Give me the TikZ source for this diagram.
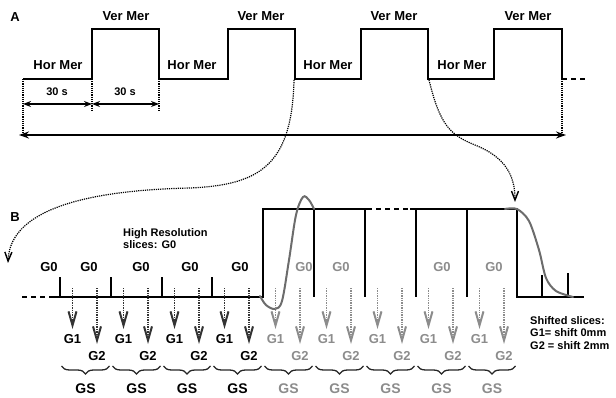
\documentclass[tikz,border=0pt]{standalone}
\usepackage{fontspec}
\setmainfont{Liberation Sans}
\usetikzlibrary{arrows.meta,decorations.pathreplacing}
\definecolor{lite}{gray}{0.55}
\definecolor{darkg}{gray}{0.2}
\begin{document}
\begin{tikzpicture}[x=1pt,y=-1pt,
  lbl/.style={font=\bfseries\fontsize{13}{13}\selectfont, inner sep=0pt, text height=0.72em, text depth=0pt},
  small/.style={font=\bfseries\fontsize{11}{11}\selectfont, inner sep=0pt, text height=0.72em, text depth=0pt},
  note/.style={font=\bfseries\fontsize{11}{12.5}\selectfont, inner sep=0pt, align=left, anchor=north west},
  gslbl/.style={font=\bfseries\fontsize{14}{14}\selectfont, inner sep=0pt, text height=0.72em, text depth=0pt},
  wave/.style={line width=1.6pt, line join=miter},
  dimline/.style={line width=1.4pt, {Stealth[length=8pt,width=6pt]}-{Stealth[length=8pt,width=6pt]}},
  longline/.style={line width=1.8pt, {Stealth[length=10pt,width=7pt]}-{Stealth[length=10pt,width=7pt]}},
  dropline/.style={line width=1.2pt, densely dotted},
  linkcurve/.style={line width=1.2pt, densely dotted, -{Straight Barb[length=9pt,width=7pt,line width=1.4pt]}},
  slicearrow/.style={line width=1.4pt, densely dotted, -{Straight Barb[length=14pt,width=8pt,line width=2pt]}},
  bold/.style={line width=2pt, gray!85!black, line cap=round},
  gsbrace/.style={line width=1.3pt, decorate, decoration={brace, mirror, amplitude=8pt}},
]
\useasboundingbox (0,0) rectangle (616,398);

% ---------------- Panel A ----------------
\node[lbl] (labA) at (15,18) {A};
\draw[wave] (23,79) -- (92,79) -- (92,29) -- (159,29) -- (159,79) -- (228,79) -- (228,29) -- (295,29) -- (295,79)
  -- (361,79) -- (361,29) -- (428,29) -- (428,79) -- (494,79) -- (494,29) -- (562,29) -- (562,79);
\draw[wave, dash pattern=on 5pt off 4pt] (562,79) -- (586,79);

\foreach \x/\n in {126/1,261/2,394/3,528/4}
  \node[lbl] (ver\n) at (\x,17) {Ver Mer};
\foreach \x/\n in {58/1,192/2,328/3,462/4}
  \node[lbl] (hor\n) at (\x,66) {Hor Mer};

\coordinate (d0) at (23,79);  \coordinate (d0b) at (23,135);
\coordinate (d1) at (92,79);  \coordinate (d1b) at (92,112);
\coordinate (d2) at (159,79); \coordinate (d2b) at (159,112);
\coordinate (d3) at (562,79); \coordinate (d3b) at (562,135);
\draw[dropline] (d0) -- (d0b);
\draw[dropline] (d1) -- (d1b);
\draw[dropline] (d2) -- (d2b);
\draw[dropline] (d3) -- (d3b);

\coordinate (a0) at (23,104); \coordinate (a1) at (92,104); \coordinate (a2) at (159,104);
\draw[dimline] (a0) -- (a1);
\draw[dimline] (a1) -- (a2);
\node[small] (t1) at (57,92) {30 s};
\node[small] (t2) at (125,92) {30 s};

\coordinate (L0) at (19,135); \coordinate (L1) at (566,135);
\draw[longline] (L0) -- (L1);

% link curves
\coordinate (f1) at (294,80);
\coordinate (m1) at (190,188);
\coordinate (e1) at (8,263);
\draw[linkcurve] (f1) .. controls (292,165) and (260,185) .. (m1) .. controls (100,190) and (10,205) .. (e1);
\coordinate (f2) at (429,80);
\coordinate (m2) at (475,145);
\coordinate (e2) at (515,202);
\draw[linkcurve] (f2) .. controls (440,125) and (450,135) .. (m2) .. controls (505,157) and (515,175) .. (e2);

% ---------------- Panel B ----------------
\node[lbl] (labB) at (15,218) {B};
\node[note] (hires) at (123,228) {High Resolution\\slices: G0};

\draw[wave, dash pattern=on 5pt off 4pt] (22,297) -- (50,297);
\draw[wave] (50,297) -- (263,297) -- (263,209) -- (372,209);
\draw[wave, dash pattern=on 5pt off 4pt] (376,209) -- (408,209);
\draw[wave] (410,209) -- (517,209) -- (517,297) -- (584,297);

% up ticks
\foreach \x in {60,111,162,212}
  \draw[wave] (\x,297) -- (\x,277);
\draw[wave] (542,297) -- (542,275);
\draw[wave] (568,297) -- (568,273);
% hanging ticks
\foreach \x in {314,365,416,467}
  \draw[wave] (\x,209) -- (\x,297);

% BOLD response curves
\draw[bold] plot[smooth, tension=0.55] coordinates {(260,296) (266,305) (275,309) (282,301) (289,260) (296,215) (303,197) (309,200) (314,209)};
\draw[bold] plot[smooth, tension=0.5] coordinates {(505,209) (517,209) (529,221) (539,250) (546,278) (556,291) (573,297)};

% G0 labels
\foreach \x/\n in {49/1,89/2,141/3,190/4,240/5}
  \node[lbl] (gz\n) at (\x,268) {G0};
\foreach \x/\n in {304/6,341/7,442/8,494/9}
  \node[lbl, text=lite] (gz\n) at (\x,268) {G0};

% slice arrows, labels, braces
\foreach \t/\u/\i in {60/111/1,111/162/2,162/212/3,212/263/4,263/314/5,314/365/6,365/416/7,416/467/8,467/517/9}{
  \pgfmathsetmacro{\xa}{\t+12.5}
  \pgfmathsetmacro{\xb}{\t+37}
  \pgfmathsetmacro{\xm}{(\t+\u)/2}
  \ifnum\i<5
    \def\ac{darkg}\def\tc{black}
  \else
    \def\ac{lite}\def\tc{lite}
  \fi
  \coordinate (pa\i) at (\xa,288); \coordinate (qa\i) at (\xa,329);
  \coordinate (pb\i) at (\xb,288); \coordinate (qb\i) at (\xb,344);
  \draw[slicearrow, draw=\ac] (pa\i) -- (qa\i);
  \draw[slicearrow, draw=\ac] (pb\i) -- (qb\i);
  \node[lbl, text=\tc] (ga\i) at (\xa,340) {G1};
  \node[lbl, text=\tc] (gb\i) at (\xb,357) {G2};
  \coordinate (bs\i) at (\t+1.5,366); \coordinate (be\i) at (\u-1.5,366);
  \draw[gsbrace, draw=black!85] (bs\i) -- (be\i);
  \node[gslbl, text=\tc] (gs\i) at (\xm,390) {GS};
}

\node[note] (shift) at (530,316) {Shifted slices:\\G1= shift 0mm\\G2 = shift 2mm};
\end{tikzpicture}
\end{document}
